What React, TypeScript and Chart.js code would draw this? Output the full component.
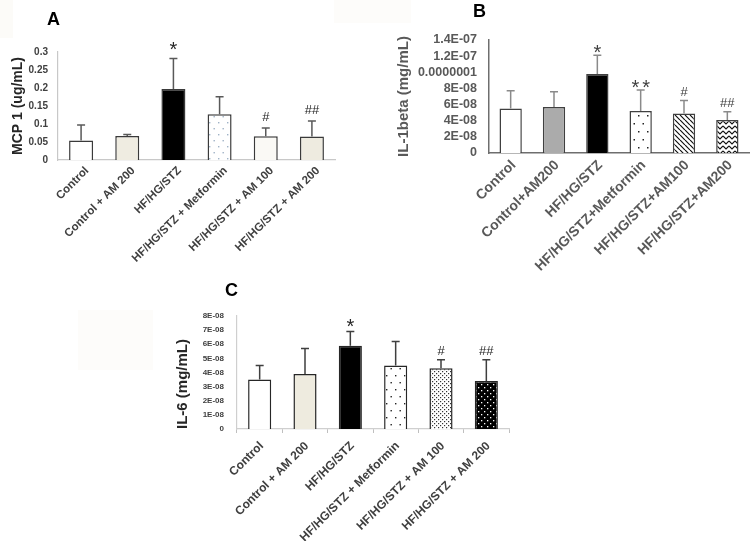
import React, { useEffect, useRef } from "react";
import { Chart, registerables } from "chart.js";

Chart.register(...registerables);

const FONT = "Arial, 'Liberation Sans', sans-serif";

// ---------- Panel A: MCP 1 ----------
const categoriesA = ["Control", "Control + AM 200", "HF/HG/STZ", "HF/HG/STZ + Metformin", "HF/HG/STZ + AM 100", "HF/HG/STZ + AM 200"];
const meanA = [0.054, 0.067, 0.197, 0.127, 0.066, 0.065];
const sdA = [0.043, 0.004, 0.085, 0.049, 0.023, 0.043];
const sigA = ["", "", "*", "", "#", "##"];
const yTicksA = ["0", "0.05", "0.1", "0.15", "0.2", "0.25", "0.3"];

// ---------- Panel B: IL-1beta ----------
const categoriesB = ["Control", "Control+AM200", "HF/HG/STZ", "HF/HG/STZ+Metformin", "HF/HG/STZ+AM100", "HF/HG/STZ+AM200"];
const meanB = [5.5e-8, 5.7e-8, 9.8e-8, 5.2e-8, 4.9e-8, 4.1e-8];
const sdB = [2.2e-8, 1.9e-8, 2.3e-8, 2.6e-8, 1.6e-8, 1.0e-8];
const sigB = ["", "", "*", "**", "#", "##"];
const yTicksB = ["0", "2E-08", "4E-08", "6E-08", "8E-08", "0.0000001", "1.2E-07", "1.4E-07"];

// ---------- Panel C: IL-6 ----------
const categoriesC = ["Control", "Control + AM 200", "HF/HG/STZ", "HF/HG/STZ + Metformin", "HF/HG/STZ + AM 100", "HF/HG/STZ + AM 200"];
const meanC = [3.5e-8, 3.9e-8, 5.9e-8, 4.5e-8, 4.3e-8, 3.4e-8];
const sdC = [1.0e-8, 1.8e-8, 1.0e-8, 1.7e-8, 0.6e-8, 1.5e-8];
const sigC = ["", "", "*", "", "#", "##"];
const yTicksC = ["0", "1E-08", "2E-08", "3E-08", "4E-08", "5E-08", "6E-08", "7E-08", "8E-08"];

function makeFill(key: string): any {
  if (key.startsWith("#")) return key;
  const c = document.createElement("canvas");
  const g = c.getContext("2d")!;
  const dot = (x: number, y: number, s: number) => g.fillRect(x, y, s, s);
  switch (key) {
    case "dotsA":
      c.width = 9; c.height = 12;
      g.fillStyle = "#ffffff"; g.fillRect(0, 0, 9, 12);
      g.fillStyle = "#9fb2c6"; dot(2, 2, 1.4); dot(6.5, 8, 1.4);
      break;
    case "dotsB":
      c.width = 9; c.height = 16;
      g.fillStyle = "#ffffff"; g.fillRect(0, 0, 9, 16);
      g.fillStyle = "#222222"; dot(2, 3, 1.5); dot(6.5, 11, 1.5);
      break;
    case "stripesB":
      c.width = 5; c.height = 5;
      g.fillStyle = "#ffffff"; g.fillRect(0, 0, 5, 5);
      g.strokeStyle = "#111111"; g.lineWidth = 1.2;
      g.beginPath();
      for (let k = -1; k <= 1; k++) { g.moveTo(k * 5, 0); g.lineTo(k * 5 + 5, 5); }
      g.stroke();
      break;
    case "zigzagB":
      c.width = 6; c.height = 5;
      g.fillStyle = "#ffffff"; g.fillRect(0, 0, 6, 5);
      g.strokeStyle = "#111111"; g.lineWidth = 1.1;
      g.beginPath(); g.moveTo(0, 1); g.lineTo(3, 4); g.lineTo(6, 1); g.stroke();
      break;
    case "dotsC":
      c.width = 9; c.height = 14;
      g.fillStyle = "#ffffff"; g.fillRect(0, 0, 9, 14);
      g.fillStyle = "#222222"; dot(2, 2, 1.4); dot(6.5, 9, 1.4);
      break;
    case "fineDotsC":
      c.width = 4; c.height = 4;
      g.fillStyle = "#ffffff"; g.fillRect(0, 0, 4, 4);
      g.fillStyle = "#333333"; dot(0, 0, 1.2); dot(2, 2, 1.2);
      break;
    case "darkDotsC":
      c.width = 6; c.height = 6;
      g.fillStyle = "#000000"; g.fillRect(0, 0, 6, 6);
      g.fillStyle = "#ffffff"; dot(1, 1, 1.3); dot(4, 4, 1.3);
      break;
    default:
      return "#ffffff";
  }
  return g.createPattern(c, "repeat");
}

type PanelProps = {
  id: string;
  x: number; y: number; w: number; h: number;
  pad: { left: number; top: number; right: number };
  yWidth: number; xHeight: number;
  labels: string[]; mean: number[]; sd: number[]; sig: string[];
  yTickLabels: string[]; yStep: number; yMax: number;
  yTitle: string; yTitleSize: number; yTitleColor: string; yTitleAlign: "center" | "start";
  yTickSize: number; yTickColor: string; yTickPad: number; yTickWeight: string;
  xTickSize: number; xTickColor: string; xTickPad: number; xTickWeight: string; xLabelOffset: number;
  axisColor: string; axisWidth: number; xTickMarks: boolean;
  fills: string[]; borderColor: string; borderWidth: number; barPct: number;
  errColor: string; errWidth: number; capHalf: number;
  sigColor: string; starSize: number; hashSize: number; starLift: number; hashLift: number;
};

function Panel(p: PanelProps) {
  const ref = useRef<HTMLCanvasElement>(null);
  useEffect(() => {
    const canvas = ref.current!;
    const overlay = {
      id: "overlay" + p.id,
      afterDatasetsDraw(chart: any) {
        const ctx = chart.ctx as CanvasRenderingContext2D;
        const xs = chart.scales.x;
        const ys = chart.scales.y;
        ctx.save();
        p.mean.forEach((m, i) => {
          const x = xs.getPixelForValue(i);
          const y0 = ys.getPixelForValue(m);
          const y1 = ys.getPixelForValue(m + p.sd[i]);
          ctx.strokeStyle = p.errColor;
          ctx.lineWidth = p.errWidth;
          ctx.beginPath();
          ctx.moveTo(x, y0);
          ctx.lineTo(x, y1);
          ctx.moveTo(x - p.capHalf, y1);
          ctx.lineTo(x + p.capHalf, y1);
          ctx.stroke();
          const s = p.sig[i];
          if (s) {
            const star = s.includes("*");
            ctx.fillStyle = p.sigColor;
            ctx.textAlign = "center";
            ctx.textBaseline = "alphabetic";
            ctx.font = star ? `${p.starSize}px ${FONT}` : `${p.hashSize}px ${FONT}`;
            (ctx as any).letterSpacing = star && s.length > 1 ? "3px" : "0px";
            ctx.fillText(s, x + (star && s.length > 1 ? 1.5 : 0), y1 - (star ? p.starLift : p.hashLift));
          }
        });
        ctx.restore();
      },
    };
    const chart = new Chart(canvas, {
      type: "bar",
      data: {
        labels: p.labels,
        datasets: [
          {
            data: p.mean,
            backgroundColor: p.fills.map(makeFill),
            borderColor: p.borderColor,
            borderWidth: p.borderWidth,
            barPercentage: p.barPct,
            categoryPercentage: 1,
          },
        ],
      },
      options: {
        animation: false,
        responsive: false,
        maintainAspectRatio: false,
        layout: { padding: { left: p.pad.left, top: p.pad.top, right: p.pad.right, bottom: 0 } },
        plugins: { legend: { display: false }, tooltip: { enabled: false }, title: { display: false } },
        scales: {
          x: {
            afterFit: (s: any) => { s.height = p.xHeight; },
            grid: {
              display: p.xTickMarks,
              drawOnChartArea: false,
              drawTicks: p.xTickMarks,
              tickLength: 4,
              color: "#bfbfbf",
              offset: true,
            },
            border: { display: true, color: p.axisColor, width: p.axisWidth },
            ticks: {
              autoSkip: false,
              minRotation: 45,
              maxRotation: 45,
              padding: p.xTickPad,
              labelOffset: p.xLabelOffset,
              color: p.xTickColor,
              font: { family: FONT, size: p.xTickSize, weight: p.xTickWeight as any },
            },
          },
          y: {
            min: 0,
            max: p.yMax,
            afterFit: (s: any) => { s.width = p.yWidth; },
            grid: { display: false, drawTicks: false },
            border: { display: true, color: p.axisColor, width: p.axisWidth },
            ticks: {
              autoSkip: false,
              stepSize: p.yStep,
              padding: p.yTickPad,
              color: p.yTickColor,
              font: { family: FONT, size: p.yTickSize, weight: p.yTickWeight as any },
              callback: (v: any) => {
                const idx = Math.round(Number(v) / p.yStep);
                return p.yTickLabels[idx] ?? "";
              },
            },
            title: {
              display: true,
              text: p.yTitle,
              color: p.yTitleColor,
              align: p.yTitleAlign,
              padding: 0,
              font: { family: FONT, size: p.yTitleSize, weight: "bold" },
            },
          },
        },
      },
      plugins: [overlay],
    });
    return () => chart.destroy();
  }, []);
  return (
    <canvas
      ref={ref}
      width={p.w}
      height={p.h}
      style={{ position: "absolute", left: p.x, top: p.y, width: p.w, height: p.h }}
    />
  );
}

const letterStyle = (left: number, top: number): React.CSSProperties => ({
  position: "absolute",
  left,
  top,
  fontFamily: FONT,
  fontWeight: "bold",
  fontSize: 18,
  lineHeight: 1,
  color: "#000",
});

export default function App() {
  return (
    <div style={{ position: "absolute", left: 0, top: 0, width: 753, height: 541, background: "#ffffff", overflow: "hidden" }}>
      <div style={{ position: "absolute", left: 0, top: 0, width: 13, height: 38, background: "#fcfbf8" }} />
      <div style={{ position: "absolute", left: 334, top: 0, width: 77, height: 23, background: "#fdfcfa" }} />
      <div style={{ position: "absolute", left: 78, top: 310, width: 75, height: 60, background: "#fdfcfa" }} />

      <Panel
        id="A" x={0} y={0} w={345} h={275}
        pad={{ left: 10, top: 52, right: 10 }} yWidth={48} xHeight={115}
        labels={categoriesA} mean={meanA} sd={sdA} sig={sigA}
        yTickLabels={yTicksA} yStep={0.05} yMax={0.3}
        yTitle="MCP 1 (ug/mL)" yTitleSize={14} yTitleColor="#262626" yTitleAlign="center"
        yTickSize={10} yTickColor="#404040" yTickPad={10} yTickWeight="bold"
        xTickSize={11.5} xTickColor="#404040" xTickPad={4} xTickWeight="bold" xLabelOffset={6}
        axisColor="#c8c8c8" axisWidth={1.2} xTickMarks={false}
        fills={["#ffffff", "#efece1", "#000000", "dotsA", "#faf9f5", "#eeebe0"]}
        borderColor="#3a3a3a" borderWidth={1.5} barPct={0.52}
        errColor="#595959" errWidth={1.5} capHalf={4}
        sigColor="#262626" starSize={20} hashSize={13} starLift={2.5} hashLift={7}
      />
      <Panel
        id="B" x={375} y={0} w={378} h={272}
        pad={{ left: 20, top: 40, right: 4 }} yWidth={94} xHeight={119}
        labels={categoriesB} mean={meanB} sd={sdB} sig={sigB}
        yTickLabels={yTicksB} yStep={2e-8} yMax={1.4e-7}
        yTitle="IL-1beta (mg/mL)" yTitleSize={15} yTitleColor="#595959" yTitleAlign="center"
        yTickSize={12.5} yTickColor="#595959" yTickPad={12} yTickWeight="bold"
        xTickSize={14} xTickColor="#595959" xTickPad={4} xTickWeight="bold" xLabelOffset={3}
        axisColor="#6e6e6e" axisWidth={1.5} xTickMarks={false}
        fills={["#ffffff", "#ababab", "#000000", "dotsB", "stripesB", "zigzagB"]}
        borderColor="#404040" borderWidth={1.5} barPct={0.515}
        errColor="#8a8a8a" errWidth={1.5} capHalf={4}
        sigColor="#404040" starSize={20} hashSize={13} starLift={-4} hashLift={4.5}
      />
      <Panel
        id="C" x={150} y={275} w={370} h={266}
        pad={{ left: 24, top: 41, right: 11 }} yWidth={63} xHeight={112}
        labels={categoriesC} mean={meanC} sd={sdC} sig={sigC}
        yTickLabels={yTicksC} yStep={1e-8} yMax={8e-8}
        yTitle="IL-6 (mg/mL)" yTitleSize={15} yTitleColor="#262626" yTitleAlign="start"
        yTickSize={8} yTickColor="#404040" yTickPad={13} yTickWeight="bold"
        xTickSize={12} xTickColor="#404040" xTickPad={6} xTickWeight="bold" xLabelOffset={2}
        axisColor="#cfcfcf" axisWidth={1.2} xTickMarks={true}
        fills={["#ffffff", "#eeebdf", "#000000", "dotsC", "fineDotsC", "darkDotsC"]}
        borderColor="#262626" borderWidth={1.5} barPct={0.51}
        errColor="#3f3f3f" errWidth={1.5} capHalf={4}
        sigColor="#262626" starSize={20} hashSize={13} starLift={-1} hashLift={4.5}
      />

      <div style={letterStyle(47, 10)}>A</div>
      <div style={letterStyle(473, 2)}>B</div>
      <div style={letterStyle(225, 281)}>C</div>
    </div>
  );
}
